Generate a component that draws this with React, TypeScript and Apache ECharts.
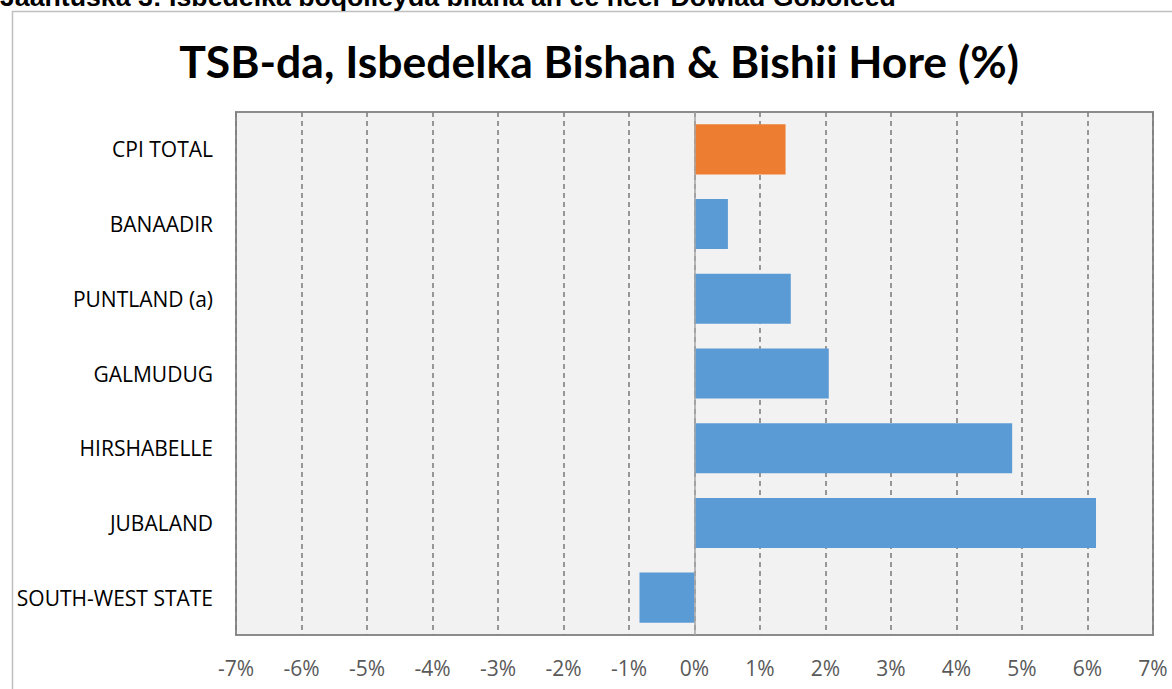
import React, { useEffect, useRef } from "react";
import * as echarts from "echarts";

const categories = [
  "CPI TOTAL",
  "BANAADIR",
  "PUNTLAND (a)",
  "GALMUDUG",
  "HIRSHABELLE",
  "JUBALAND",
  "SOUTH-WEST STATE",
];
const values = [1.39, 0.51, 1.47, 2.05, 4.85, 6.13, -0.84];
const barColors = ["#ED7D31", "#5B9BD5", "#5B9BD5", "#5B9BD5", "#5B9BD5", "#5B9BD5", "#5B9BD5"];
const titleText = "TSB-da, Isbedelka Bishan & Bishii Hore (%)";
const captionText = "Jaantuska 3: Isbedelka boqolleyda bilaha ah ee heer Dowlad Goboleed";

export default function App() {
  const ref = useRef<HTMLDivElement>(null);
  useEffect(() => {
    if (!ref.current) return;
    const chart = echarts.init(ref.current, null, { renderer: "svg" });
    chart.setOption({
      animation: false,
      backgroundColor: "#ffffff",
      title: {
        text: titleText,
        left: 594,
        textAlign: "center",
        top: 33,
        textStyle: {
          fontFamily: "Lato",
          fontWeight: "bold",
          fontSize: 44.5,
          color: "#000000",
        },
      },
      graphic: [
        {
          type: "rect",
          shape: { x: 12.5, y: 11.5, width: 1200, height: 720 },
          style: { fill: "none", stroke: "#bfbfbf", lineWidth: 1.5 },
          silent: true,
        },
        {
          type: "text",
          x: 0,
          y: 10.5,
          style: {
            text: captionText,
            font: "bold 26.7px 'Liberation Sans'",
            fill: "#000000",
            textVerticalAlign: "bottom",
          },
          silent: true,
        },
      ],
      grid: {
        left: 236,
        right: 19,
        top: 112,
        bottom: 54,
        show: true,
        backgroundColor: "#f2f2f2",
        borderColor: "#8c8c8c",
        borderWidth: 2,
      },
      xAxis: {
        type: "value",
        min: -7,
        max: 7,
        interval: 1,
        axisLine: { show: false },
        axisTick: { show: false },
        axisLabel: {
          formatter: (v: number) => `${v}%`,
          color: "#595959",
          fontFamily: "Open Sans",
          fontSize: 21,
          margin: 22,
        },
        splitLine: {
          show: true,
          lineStyle: { color: "#808080", type: [5, 4], width: 1.6 },
        },
      },
      yAxis: {
        type: "category",
        data: categories,
        inverse: true,
        axisLine: { show: false },
        axisTick: { show: false },
        axisLabel: {
          color: "#000000",
          fontFamily: "Open Sans",
          fontSize: 21,
          margin: 23,
        },
        splitLine: { show: false },
      },
      series: [
        {
          type: "bar",
          data: values.map((v, i) => ({ value: v, itemStyle: { color: barColors[i] } })),
          barCategoryGap: "33%",
          markLine: {
            silent: true,
            symbol: "none",
            label: { show: false },
            lineStyle: { color: "#a6a6a6", type: "solid", width: 1.5 },
            data: [{ xAxis: 0 }],
          },
        },
      ],
    });
    return () => chart.dispose();
  }, []);
  return (
    <div
      ref={ref}
      style={{ position: "fixed", left: 0, top: 0, width: 1172, height: 689 }}
    />
  );
}
